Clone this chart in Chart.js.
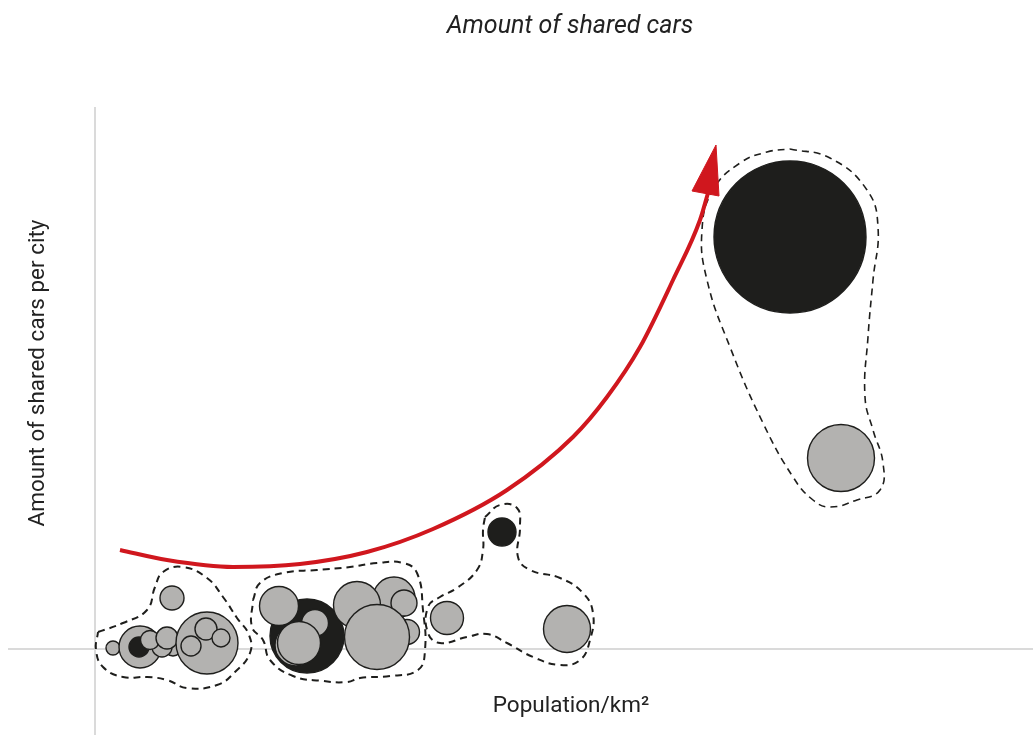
<!DOCTYPE html>
<html>
<head>
<meta charset="utf-8">
<script src="https://cdn.jsdelivr.net/npm/chart.js@4/dist/chart.umd.min.js"></script>
<style>
    html, body { margin: 0; padding: 0; background: #fff; }
    #wrap { width: 1033px; height: 735px; }
</style>
</head>
<body>
<div id="wrap"><canvas id="chart-cars"></canvas></div>
<script>
grey_color = '#b3b2b0'
dark_color = '#1e1e1c'
red_color = '#d0171e'
axis_color = '#dadada'

// bubbles: x, y (axes cross at 0,0), radius in px, dark or not
bubble_x = [18, 45, 44, 78, 67, 55, 72, 77, 112, 111, 126, 96,
    212, 184, 220, 201, 204, 312, 299, 309, 262, 282,
    407, 352, 472,
    695, 746]
bubble_y = [1, 2, 2, 2, 2, 9, 11, 51, 6, 20, 11, 3,
    13, 43, 26, 4, 6, 17, 51, 46, 44, 12,
    117, 31, 20,
    412, 191]
bubble_r = [7, 21, 10, 9, 10, 9.5, 11, 12, 31, 11, 9, 10,
    37, 19.5, 13.5, 21, 21.5, 12.5, 21, 13, 23.5, 32.5,
    14, 16.5, 23.5,
    76, 33.5]
bubble_dark = [0, 0, 1, 0, 0, 0, 0, 0, 0, 0, 0, 0,
    1, 0, 0, 0, 0, 0, 0, 0, 0, 0,
    1, 0, 0,
    1, 0]

trend_x = [25, 72, 138, 205, 272, 338, 412, 478, 512, 545, 578, 605, 613]
trend_y = [99, 89, 82, 85, 97, 120, 159, 212, 252, 302, 369, 429, 456]
arrow_x = [621, 597, 624, 621]
arrow_y = [504, 458, 453, 504]

group1_x = [3, 28, 52, 60, 68, 88, 112, 128, 142, 154, 155, 140, 122, 92, 72, 52, 28, 8, 1, 3]
group1_y = [17, 26, 39, 62, 77, 82, 71, 52, 31, 14, -4, -23, -36, -39, -31, -28, -28, -18, -1, 17]
group2_x = [158, 165, 188, 222, 255, 282, 308, 322, 328, 330, 323, 295, 265, 252, 228, 198, 175, 168, 157, 158]
group2_y = [49, 66, 76, 79, 82, 86, 86, 76, 39, -1, -21, -27, -29, -33, -32, -27, -11, 9, 22, 49]
group3_x = [390, 405, 422, 425, 423, 435, 465, 488, 498, 495, 485, 465, 438, 412, 392, 372, 345, 333, 333, 345, 362, 382, 388, 388, 390]
group3_y = [132, 144, 141, 122, 92, 79, 71, 56, 36, 9, -11, -16, -8, 6, 15, 12, 6, 16, 42, 52, 61, 79, 99, 119, 132]
group4_x = [695, 735, 772, 783, 778, 773, 770, 778, 788, 785, 762, 735, 718, 698, 668, 635, 612, 607, 618, 645, 672, 695]
group4_y = [500, 491, 459, 422, 369, 312, 252, 219, 186, 159, 149, 142, 149, 172, 226, 302, 369, 419, 459, 486, 497, 500]

function points(xs, ys) {
    return xs.map((x, i) => ({ x: x, y: ys[i] }))
}

function group_dataset(xs, ys, width) {
    return {
        type: 'line',
        data: points(xs, ys),
        borderColor: dark_color,
        borderWidth: width,
        borderDash: [7, 5],
        pointRadius: 0,
        tension: 0.45,
        fill: false
    }
}

const extras = {
    id: 'extras',
    beforeDatasetsDraw(chart) {
        const ctx = chart.ctx
        const a = chart.chartArea
        const x0 = chart.scales.x.getPixelForValue(0)
        const y0 = chart.scales.y.getPixelForValue(0)
        ctx.save()
        ctx.strokeStyle = axis_color
        ctx.lineWidth = 2
        ctx.beginPath()
        ctx.moveTo(a.left, y0)
        ctx.lineTo(a.right, y0)
        ctx.moveTo(x0, a.top)
        ctx.lineTo(x0, a.bottom)
        ctx.stroke()
        ctx.restore()
    },
    afterDraw(chart) {
        const ctx = chart.ctx
        ctx.save()
        ctx.fillStyle = '#222'
        ctx.textAlign = 'center'
        ctx.textBaseline = 'middle'
        ctx.font = 'italic 25px Roboto'
        ctx.fillText('Amount of shared cars', 570, 27)
        ctx.font = '22.5px Roboto'
        ctx.fillText('Population/km\u00b2', 571, 706)
        ctx.translate(38, 373)
        ctx.rotate(-Math.PI / 2)
        ctx.fillText('Amount of shared cars per city', 0, 0)
        ctx.restore()
    }
}

cars_chart = new Chart(
    document.getElementById('chart-cars').getContext('2d'), {
        type: 'bubble',
        data: {
            datasets: [{
                type: 'line',
                data: points(arrow_x, arrow_y),
                borderColor: red_color,
                backgroundColor: red_color,
                borderWidth: 1,
                pointRadius: 0,
                tension: 0,
                fill: 'shape'
            }, {
                type: 'line',
                data: points(trend_x, trend_y),
                borderColor: red_color,
                borderWidth: 4,
                pointRadius: 0,
                cubicInterpolationMode: 'monotone',
                fill: false
            }, {
                data: bubble_x.map((x, i) => ({ x: x, y: bubble_y[i], r: bubble_r[i] })),
                backgroundColor: bubble_dark.map(d => d ? dark_color : grey_color),
                borderColor: dark_color,
                borderWidth: 1.4
            },
            group_dataset(group1_x, group1_y, 2),
            group_dataset(group2_x, group2_y, 2),
            group_dataset(group3_x, group3_y, 2),
            group_dataset(group4_x, group4_y, 1.6)
            ]
        },
        options: {
            responsive: true,
            maintainAspectRatio: false,
            animation: false,
            events: [],
            layout: {
                autoPadding: false,
                padding: { left: 8, right: 0, top: 107, bottom: 0 }
            },
            scales: {
                x: { type: 'linear', display: false, min: -87, max: 938 },
                y: { type: 'linear', display: false, min: -86, max: 542 }
            },
            plugins: {
                legend: { display: false },
                title: { display: false },
                tooltip: { enabled: false }
            }
        },
        plugins: [extras]
    });
</script>
</body>
</html>
